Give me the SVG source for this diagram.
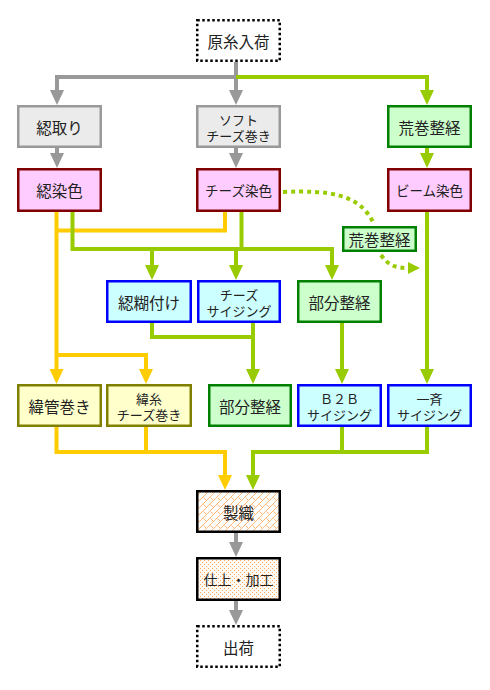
<svg xmlns="http://www.w3.org/2000/svg" width="490" height="690" viewBox="0 0 490 690">
<defs>
<style>
.box{stroke-width:2.5}
.gray{fill:#EBEBEB;stroke:#999999}
.pink{fill:#FFCCFF;stroke:#800000}
.green{fill:#CCFFCC;stroke:#008000}
.cyan{fill:#CCFFFF;stroke:#0000FF}
.ylw{fill:#FFFFCC;stroke:#808000}
.dot{fill:#FFFFFF;stroke:#000000;stroke-dasharray:2.5 2.5}
.weave{fill:url(#hatch);stroke:#000000}
.finish{fill:url(#dots);stroke:#000000}
text{font-family:"Noto Sans CJK JP","Noto Sans",sans-serif;fill:#222222;text-anchor:middle;dominant-baseline:central;font-size:15.5px}
text.s{font-size:13.5px}
text.t{font-size:13px}
.c path{fill:none;stroke-width:4}
.cg{stroke:#999999}
.cn{stroke:#99CC00}
.cy{stroke:#FFCC00}
.cd{stroke:#99CC00;stroke-dasharray:4 4}
</style>
<marker id="ag" viewBox="0 -7 15 14" refX="0" refY="0" markerWidth="15" markerHeight="14" markerUnits="userSpaceOnUse" orient="auto"><path d="M0,-7 L15,0 L0,7 Z" fill="#999999"/></marker>
<marker id="an" viewBox="0 -7 15 14" refX="0" refY="0" markerWidth="15" markerHeight="14" markerUnits="userSpaceOnUse" orient="auto"><path d="M0,-7 L15,0 L0,7 Z" fill="#99CC00"/></marker>
<marker id="ay" viewBox="0 -7 15 14" refX="0" refY="0" markerWidth="15" markerHeight="14" markerUnits="userSpaceOnUse" orient="auto"><path d="M0,-7 L15,0 L0,7 Z" fill="#FFCC00"/></marker>
<marker id="ad" viewBox="0 -6 12 12" refX="0" refY="0" markerWidth="12" markerHeight="12" markerUnits="userSpaceOnUse" orient="auto"><path d="M0,-6 L12,0 L0,6 Z" fill="#99CC00"/></marker>
<pattern id="hatch" patternUnits="userSpaceOnUse" width="7" height="7">
<rect width="7" height="7" fill="#FFFFFF"/>
<path d="M0,7 L7,0 M-1,1 L1,-1 M6,8 L8,6 M0.5,0.5 L3.5,3.5" stroke="#FFB878" stroke-width="1" fill="none"/>
</pattern>
<pattern id="dots" patternUnits="userSpaceOnUse" width="4" height="4">
<rect width="4" height="4" fill="#FFFAF4"/>
<rect x="0" y="0" width="1" height="1" fill="#FFA860"/>
<rect x="2" y="2" width="1" height="1" fill="#FFA860"/>
</pattern>
</defs>
<rect width="490" height="690" fill="#FFFFFF"/>

<g id="connectors" class="c">
<path class="cg" d="M236,62 V90" marker-end="url(#ag)"/>
<path class="cg" d="M236,77 H57 V90" marker-end="url(#ag)"/>
<path class="cg" d="M57,148 V153" marker-end="url(#ag)"/>
<path class="cg" d="M236,148 V153" marker-end="url(#ag)"/>
<path class="cg" d="M236,533 V542" marker-end="url(#ag)"/>
<path class="cg" d="M236,601 V610" marker-end="url(#ag)"/>
<path class="cn" d="M236,77 H427 V90" marker-end="url(#an)"/>
<path class="cn" d="M427,148 V153" marker-end="url(#an)"/>
<path class="cy" d="M56.5,212 V369" marker-end="url(#ay)"/>
<path class="cy" d="M225,212 V230.5 H56.5"/>
<path class="cy" d="M56.5,355 H146 V369" marker-end="url(#ay)"/>
<path class="cn" d="M72.5,212 V249 H332 V265" marker-end="url(#an)"/>
<path class="cn" d="M241.5,212 V249"/>
<path class="cn" d="M152,249 V265" marker-end="url(#an)"/>
<path class="cn" d="M236,249 V265" marker-end="url(#an)"/>
<path class="cn" d="M152,323 V337 H253"/>
<path class="cn" d="M253,323 V369" marker-end="url(#an)"/>
<path class="cn" d="M342,323 V369" marker-end="url(#an)"/>
<path class="cn" d="M427,212 V369" marker-end="url(#an)"/>
<path class="cy" d="M56.5,427 V452 H225 V475" marker-end="url(#ay)"/>
<path class="cy" d="M146,427 V452"/>
<path class="cn" d="M427,427 V452 H253 V475" marker-end="url(#an)"/>
<path class="cn" d="M342,427 V452"/>
<path class="cd" d="M283,192 C330,190 360,194 374,224"/>
<path class="cd" d="M381,255 C388,265 395,268 408,268" marker-end="url(#ad)"/>
</g>

<g id="n-genshi"><rect class="box dot" x="197.25" y="20.25" width="82.5" height="40.5"/><text x="238.5" y="40.5">原糸入荷</text></g>

<g id="n-kasetori"><rect class="box gray" x="18.25" y="106.25" width="82.5" height="40.5"/><text x="59.5" y="126.5">綛取り</text></g>
<g id="n-soft"><rect class="box gray" x="197.25" y="106.25" width="82.5" height="40.5"/><text class="t"><tspan x="238.5" y="118.5">ソフト</tspan><tspan x="238.5" y="134.5">チーズ巻き</tspan></text></g>
<g id="n-aramaki1"><rect class="box green" x="388.25" y="106.25" width="82.5" height="40.5"/><text x="429.5" y="126.5">荒巻整経</text></g>

<g id="n-kasesenshoku"><rect class="box pink" x="18.25" y="169.25" width="82.5" height="41.5"/><text x="59.5" y="190">綛染色</text></g>
<g id="n-cheesesenshoku"><rect class="box pink" x="197.25" y="169.25" width="82.5" height="41.5"/><text class="s" x="238.5" y="190">チーズ染色</text></g>
<g id="n-beam"><rect class="box pink" x="388.25" y="169.25" width="82.5" height="41.5"/><text class="s" x="429.5" y="190">ビーム染色</text></g>

<g id="n-aramaki2"><rect class="box green" x="343.25" y="227.25" width="72.5" height="23.5"/><text x="379.5" y="239">荒巻整経</text></g>

<g id="n-norizuke"><rect class="box cyan" x="107.25" y="281.25" width="83.5" height="40.5"/><text x="149" y="301.5">綛糊付け</text></g>
<g id="n-cheesesizing"><rect class="box cyan" x="198.25" y="281.25" width="81.5" height="40.5"/><text class="t"><tspan x="239" y="293.5">チーズ</tspan><tspan x="239" y="309.5">サイジング</tspan></text></g>
<g id="n-bubun1"><rect class="box green" x="298.25" y="281.25" width="82.5" height="40.5"/><text x="339.5" y="301.5">部分整経</text></g>

<g id="n-ikan"><rect class="box ylw" x="18.25" y="385.25" width="82.5" height="40.5"/><text x="59.5" y="405.5">緯管巻き</text></g>
<g id="n-iito"><rect class="box ylw" x="107.25" y="385.25" width="83.5" height="40.5"/><text class="t"><tspan x="149" y="397.5">緯糸</tspan><tspan x="149" y="413.5">チーズ巻き</tspan></text></g>
<g id="n-bubun2"><rect class="box green" x="209.25" y="385.25" width="81.5" height="40.5"/><text x="250" y="405.5">部分整経</text></g>
<g id="n-b2b"><rect class="box cyan" x="298.25" y="385.25" width="82.5" height="40.5"/><text class="t"><tspan x="339.5" y="397.5">Ｂ２Ｂ</tspan><tspan x="339.5" y="413.5">サイジング</tspan></text></g>
<g id="n-issei"><rect class="box cyan" x="388.25" y="385.25" width="82.5" height="40.5"/><text class="t"><tspan x="429.5" y="397.5">一斉</tspan><tspan x="429.5" y="413.5">サイジング</tspan></text></g>

<g id="n-seishoku"><rect class="box weave" x="197.25" y="491.25" width="82.5" height="40.5" stroke-width="3"/><text x="238.5" y="511.5">製織</text></g>
<g id="n-shiage"><rect class="box finish" x="197.25" y="558.25" width="82.5" height="41.5" stroke-width="3"/><text x="238.5" y="579" style="font-size:14px">仕上・加工</text></g>
<g id="n-shukka"><rect class="box dot" x="197.25" y="626.25" width="82.5" height="40.5"/><text x="238.5" y="646.5">出荷</text></g>
</svg>
